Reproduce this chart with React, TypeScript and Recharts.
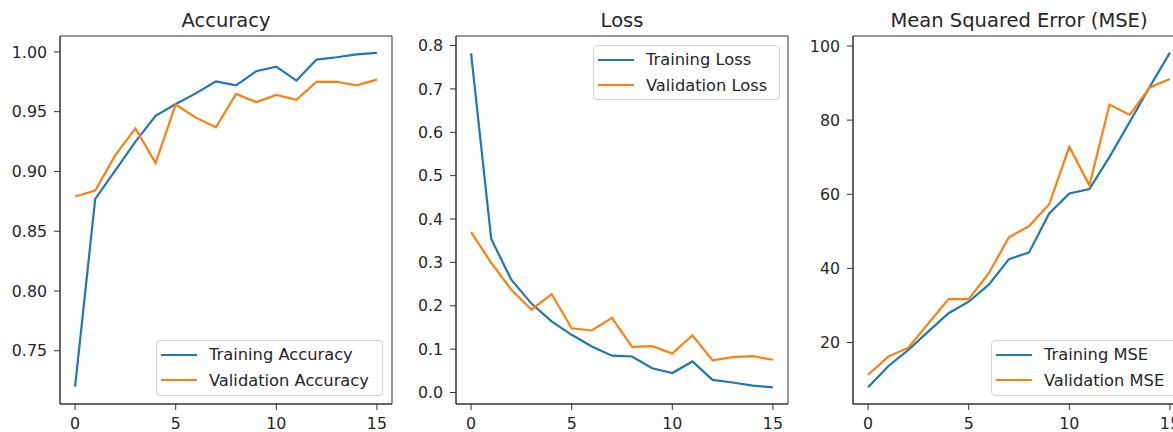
import React from "react";
import { LineChart, Line, XAxis, YAxis, Legend, ReferenceArea } from "recharts";

// epochs shared by all three panels
const epochs = [0, 1, 2, 3, 4, 5, 6, 7, 8, 9, 10, 11, 12, 13, 14, 15];

const trainAccuracy = [0.72, 0.877, 0.901, 0.925, 0.9466, 0.9564, 0.9653, 0.9754, 0.972, 0.9838, 0.9877, 0.976, 0.9936, 0.9955, 0.998, 0.9992];
const valAccuracy = [0.879, 0.884, 0.9136, 0.936, 0.907, 0.956, 0.945, 0.937, 0.9648, 0.958, 0.964, 0.96, 0.975, 0.975, 0.972, 0.9768];

const trainLoss = [0.782, 0.354, 0.26, 0.205, 0.164, 0.133, 0.106, 0.085, 0.083, 0.056, 0.045, 0.0716, 0.029, 0.023, 0.016, 0.012];
const valLoss = [0.37, 0.299, 0.237, 0.191, 0.227, 0.148, 0.143, 0.172, 0.105, 0.107, 0.09, 0.132, 0.074, 0.0815, 0.084, 0.0755];

const trainMse = [7.9, 13.6, 18.0, 23.0, 27.9, 31.0, 35.6, 42.5, 44.3, 54.8, 60.2, 61.4, 70.1, 79.5, 89.0, 98.2];
const valMse = [11.3, 16.2, 18.6, 25.2, 31.7, 31.7, 38.7, 48.4, 51.4, 57.3, 72.8, 62.4, 84.2, 81.4, 88.8, 91.1];

const accTicks = [0.75, 0.8, 0.85, 0.9, 0.95, 1.0];
const lossTicks = [0.0, 0.1, 0.2, 0.3, 0.4, 0.5, 0.6, 0.7, 0.8];
const mseTicks = [20, 40, 60, 80, 100];
const epochTicks = [0, 5, 10, 15];
const X_DOMAIN: [number, number] = [-0.75, 15.75];

const BLUE = "#1f77b4";
const ORANGE = "#ff7f0e";
const INK = "#262626";
const FONT = "'DejaVu Sans', sans-serif";

const PLOT_W = 332;
const Y_AXIS_W = 60;

interface PanelProps {
  left: number;
  title: string;
  train: number[];
  val: number[];
  trainName: string;
  valName: string;
  yDomain: [number, number];
  yTicks: number[];
  digits: number;
  legendBox: { left: number; top: number; width: number; height: number };
}

function LegendBox({ payload }: any) {
  return (
    <div
      style={{
        boxSizing: "border-box",
        width: "100%",
        height: "100%",
        border: "1px solid #d4d4d4",
        borderRadius: 4,
        background: "rgba(255,255,255,0.8)",
        padding: "1px 0 0 0",
        fontFamily: FONT,
        fontSize: 16.3,
        color: INK,
      }}
    >
      {(payload || []).map((p: any) => (
        <div
          key={p.value}
          style={{ display: "flex", alignItems: "center", height: 25.5, whiteSpace: "nowrap" }}
        >
          <span
            style={{
              display: "inline-block",
              width: 36,
              height: 2.4,
              marginLeft: 4,
              marginRight: 12,
              background: p.color,
            }}
          />
          <span>{p.value}</span>
        </div>
      ))}
    </div>
  );
}

function Panel({
  left,
  title,
  train,
  val,
  trainName,
  valName,
  yDomain,
  yTicks,
  digits,
  legendBox,
}: PanelProps) {
  const data = epochs.map((e, i) => ({ epoch: e, train: train[i], val: val[i] }));
  const chartLeft = left - Y_AXIS_W;
  const tickStyle = { fill: INK, fontSize: 15.8, fontFamily: FONT };

  return (
    <div style={{ position: "absolute", left: chartLeft, top: 0 }}>
      <LineChart
        width={Y_AXIS_W + PLOT_W + 4}
        height={432}
        data={data}
        margin={{ top: 36, right: 4, left: 0, bottom: 0 }}
      >
        <XAxis
          dataKey="epoch"
          type="number"
          domain={X_DOMAIN}
          ticks={epochTicks}
          allowDataOverflow
          height={28}
          stroke="#333"
          tick={tickStyle}
          tickSize={6}
          tickMargin={8}
        />
        <YAxis
          type="number"
          domain={yDomain}
          ticks={yTicks}
          allowDataOverflow
          width={Y_AXIS_W}
          stroke="#333"
          tick={tickStyle}
          tickSize={6}
          tickMargin={7}
          tickFormatter={(v: number) => v.toFixed(digits)}
        />
        {/* full frame around the plot plus the panel title */}
        <ReferenceArea
          x1={X_DOMAIN[0]}
          x2={X_DOMAIN[1]}
          y1={yDomain[0]}
          y2={yDomain[1]}
          ifOverflow="visible"
          fill="none"
          fillOpacity={0}
          stroke="#333"
          strokeWidth={1}
          strokeOpacity={1}
          label={{
            value: title,
            position: "top",
            offset: 9.5,
            fill: INK,
            fontSize: 19.5,
            fontFamily: FONT,
          }}
        />
        <Legend
          layout="vertical"
          align="center"
          verticalAlign="middle"
          content={<LegendBox />}
          wrapperStyle={{
            left: legendBox.left - chartLeft,
            top: legendBox.top,
            width: legendBox.width,
            height: legendBox.height,
          }}
        />
        <Line
          type="linear"
          dataKey="train"
          name={trainName}
          stroke={BLUE}
          strokeWidth={2.2}
          dot={false}
          isAnimationActive={false}
        />
        <Line
          type="linear"
          dataKey="val"
          name={valName}
          stroke={ORANGE}
          strokeWidth={2.2}
          dot={false}
          isAnimationActive={false}
        />
      </LineChart>
    </div>
  );
}

export default function App() {
  return (
    <div
      style={{
        position: "absolute",
        left: 0,
        top: 0,
        width: 1173,
        height: 432,
        overflow: "hidden",
        background: "#fff",
      }}
    >
      <Panel
        left={60}
        title="Accuracy"
        train={trainAccuracy}
        val={valAccuracy}
        trainName="Training Accuracy"
        valName="Validation Accuracy"
        yDomain={[0.7055, 1.0133]}
        yTicks={accTicks}
        digits={2}
        legendBox={{ left: 156, top: 340, width: 227, height: 56 }}
      />
      <Panel
        left={456}
        title="Loss"
        train={trainLoss}
        val={valLoss}
        trainName="Training Loss"
        valName="Validation Loss"
        yDomain={[-0.0265, 0.822]}
        yTicks={lossTicks}
        digits={1}
        legendBox={{ left: 593, top: 45, width: 187, height: 55 }}
      />
      <Panel
        left={853}
        title="Mean Squared Error (MSE)"
        train={trainMse}
        val={valMse}
        trainName="Training MSE"
        valName="Validation MSE"
        yDomain={[3.4, 102.7]}
        yTicks={mseTicks}
        digits={0}
        legendBox={{ left: 991, top: 340, width: 187, height: 56 }}
      />
    </div>
  );
}
